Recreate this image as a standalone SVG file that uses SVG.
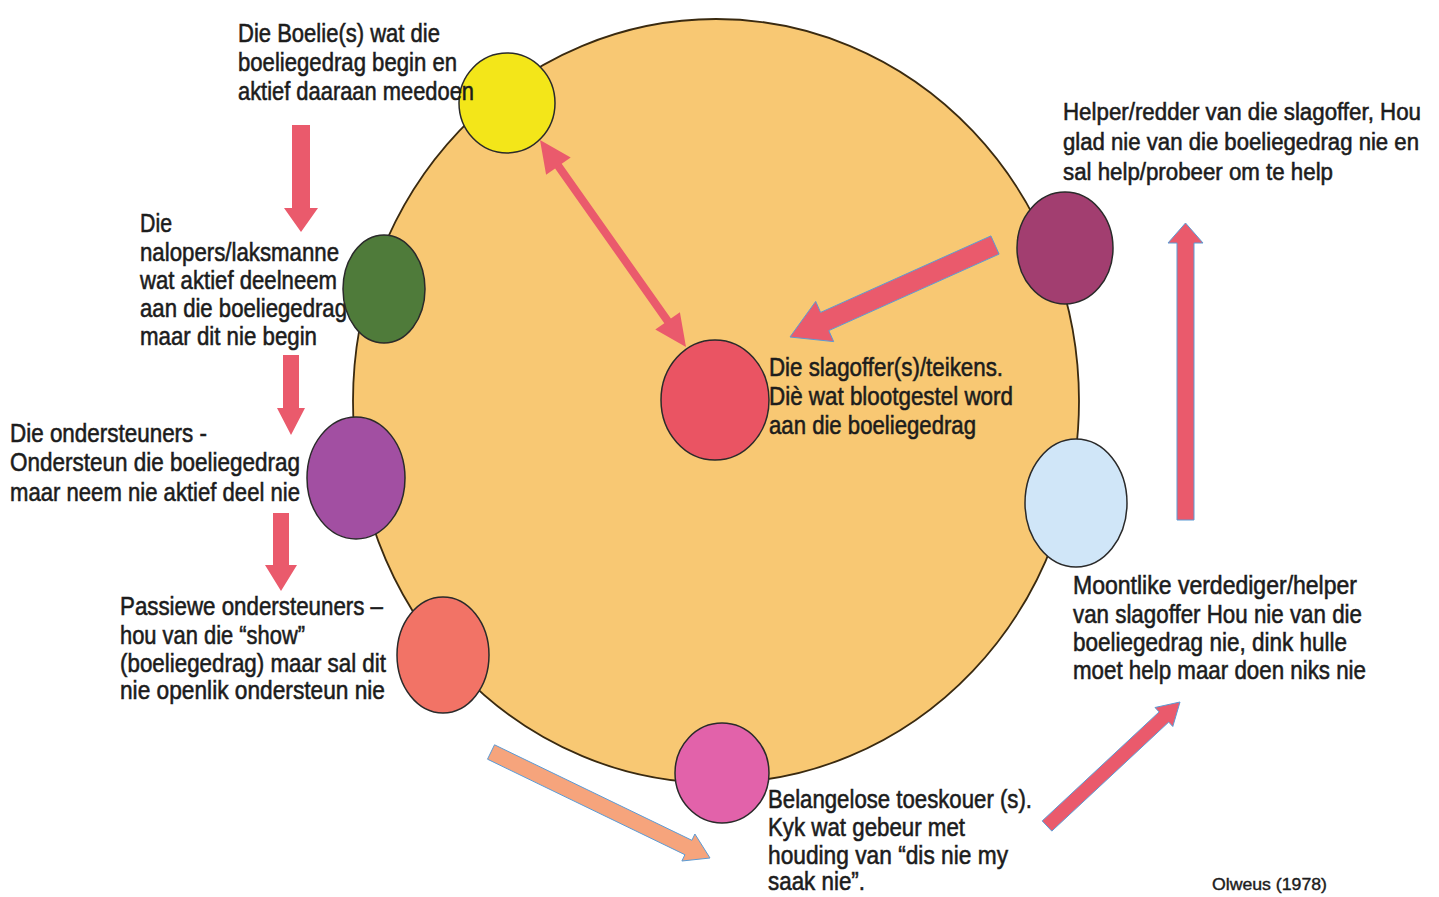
<svg xmlns="http://www.w3.org/2000/svg" width="1439" height="897" viewBox="0 0 1439 897">
<style>
.t{font-family:"Liberation Sans",Arial,sans-serif;font-size:25px;fill:#1c1c1c;stroke:#1c1c1c;stroke-width:0.55}
.h{font-size:23px}
.s{font-family:"Liberation Sans",Arial,sans-serif;font-size:17px;fill:#1c1c1c;stroke:#1c1c1c;stroke-width:0.4}
.n{stroke:#2a2a2a;stroke-width:1.5}
.a{fill:#ea5a6c}
.ab{fill:#ea5a6c;stroke:#5b9bd5;stroke-width:1}
</style>
<rect width="1439" height="897" fill="#ffffff"/>
<g id="main-circle"><ellipse cx="716" cy="401" rx="363" ry="382" fill="#f8c873" stroke="#3a2a10" stroke-width="1.8"/></g>
<g id="connectors">
<polygon class="a" points="292,125 310,125 310,208 318,208 301,232 284,208 292,208"/>
<polygon class="a" points="283,355 299,355 299,408 305,408 291,435 277,408 283,408"/>
<polygon class="a" points="273,513 289,513 289,565 297,565 281,591 265,565 273,565"/>
<polygon class="ab" points="1177,520 1194,520 1194,243 1203,243 1185.5,223 1168,243 1177,243"/>
<polygon class="ab" points="990.9,235.9 820.6,312.4 815.7,301.4 790,337 833.7,341.6 828.8,330.6 999.1,254.1"/>
<polygon class="a" points="540,140 570.7,157.5 561.7,163.8 670.9,318.6 679.9,312.3 686,347 655.3,329.5 664.3,323.2 555.1,168.4 546.1,174.7"/>
<polygon class="ab" points="1042.2,820.9 1159.1,711.9 1155,707.5 1180,702 1172.8,726.5 1168.7,722.1 1051.8,831.1"/>
<polygon fill="#f6a47c" stroke="#5b9bd5" stroke-width="1" points="494.5,744.8 691.9,840.3 694.9,834 710,858 681.9,861 684.9,854.7 487.5,759.2"/>
</g>
<g id="node-boelie">
<ellipse class="n" cx="507" cy="103" rx="48" ry="50" fill="#f3e619"/>
<text class="t" x="238" y="42" textLength="202" lengthAdjust="spacingAndGlyphs">Die Boelie(s) wat die</text>
<text class="t" x="238" y="71" textLength="219" lengthAdjust="spacingAndGlyphs">boeliegedrag begin en</text>
<text class="t" x="238" y="100" textLength="236" lengthAdjust="spacingAndGlyphs">aktief daaraan meedoen</text>
</g>
<g id="node-nalopers">
<text class="t" x="140" y="232" textLength="32" lengthAdjust="spacingAndGlyphs">Die</text>
<text class="t" x="140" y="261" textLength="199" lengthAdjust="spacingAndGlyphs">nalopers/laksmanne</text>
<text class="t" x="140" y="289" textLength="197" lengthAdjust="spacingAndGlyphs">wat aktief deelneem</text>
<text class="t" x="140" y="317" textLength="207" lengthAdjust="spacingAndGlyphs">aan die boeliegedrag</text>
<text class="t" x="140" y="345" textLength="177" lengthAdjust="spacingAndGlyphs">maar dit nie begin</text>
<ellipse class="n" cx="384" cy="289" rx="41" ry="54" fill="#4f7b3a"/>
</g>
<g id="node-ondersteuners">
<ellipse class="n" cx="356" cy="478" rx="49" ry="61" fill="#a24fa2"/>
<text class="t" x="10" y="442" textLength="197" lengthAdjust="spacingAndGlyphs">Die ondersteuners -</text>
<text class="t" x="10" y="471" textLength="290" lengthAdjust="spacingAndGlyphs">Ondersteun die boeliegedrag</text>
<text class="t" x="10" y="501" textLength="290" lengthAdjust="spacingAndGlyphs">maar neem nie aktief deel nie</text>
</g>
<g id="node-passiewe">
<ellipse class="n" cx="443" cy="655" rx="46" ry="58" fill="#f27366"/>
<text class="t" x="120" y="615" textLength="263" lengthAdjust="spacingAndGlyphs">Passiewe ondersteuners –</text>
<text class="t" x="120" y="644" textLength="185" lengthAdjust="spacingAndGlyphs">hou van die “show”</text>
<text class="t" x="120" y="672" textLength="266" lengthAdjust="spacingAndGlyphs">(boeliegedrag) maar sal dit</text>
<text class="t" x="120" y="699" textLength="265" lengthAdjust="spacingAndGlyphs">nie openlik ondersteun nie</text>
</g>
<g id="node-toeskouer">
<ellipse class="n" cx="722" cy="773" rx="47" ry="50" fill="#e262aa"/>
<text class="t" x="768" y="808" textLength="264" lengthAdjust="spacingAndGlyphs">Belangelose toeskouer (s).</text>
<text class="t" x="768" y="836" textLength="197" lengthAdjust="spacingAndGlyphs">Kyk wat gebeur met</text>
<text class="t" x="768" y="864" textLength="240" lengthAdjust="spacingAndGlyphs">houding van “dis nie my</text>
<text class="t" x="768" y="890" textLength="97" lengthAdjust="spacingAndGlyphs">saak nie”.</text>
</g>
<g id="node-slagoffer">
<ellipse class="n" cx="715" cy="400" rx="54" ry="60" fill="#ea5463"/>
<text class="t" x="769" y="376" textLength="234" lengthAdjust="spacingAndGlyphs">Die slagoffer(s)/teikens.</text>
<text class="t" x="769" y="405" textLength="244" lengthAdjust="spacingAndGlyphs">Diè wat blootgestel word</text>
<text class="t" x="769" y="434" textLength="207" lengthAdjust="spacingAndGlyphs">aan die boeliegedrag</text>
</g>
<g id="node-helper">
<ellipse class="n" cx="1065" cy="248" rx="48" ry="56" fill="#a23e70"/>
<text class="t h" x="1063" y="120" textLength="358" lengthAdjust="spacingAndGlyphs">Helper/redder van die slagoffer, Hou</text>
<text class="t h" x="1063" y="150" textLength="356" lengthAdjust="spacingAndGlyphs">glad nie van die boeliegedrag nie en</text>
<text class="t h" x="1063" y="180" textLength="270" lengthAdjust="spacingAndGlyphs">sal help/probeer om te help</text>
</g>
<g id="node-verdediger">
<ellipse class="n" cx="1076" cy="503" rx="51" ry="64" fill="#d0e6f8"/>
<text class="t" x="1073" y="594" textLength="284" lengthAdjust="spacingAndGlyphs">Moontlike  verdediger/helper</text>
<text class="t" x="1073" y="623" textLength="289" lengthAdjust="spacingAndGlyphs">van slagoffer Hou nie van die</text>
<text class="t" x="1073" y="651" textLength="274" lengthAdjust="spacingAndGlyphs">boeliegedrag nie, dink hulle</text>
<text class="t" x="1073" y="679" textLength="293" lengthAdjust="spacingAndGlyphs">moet help maar doen niks nie</text>
</g>
<g id="source"><text class="s" x="1212" y="890" textLength="115" lengthAdjust="spacingAndGlyphs">Olweus (1978)</text></g>
</svg>
